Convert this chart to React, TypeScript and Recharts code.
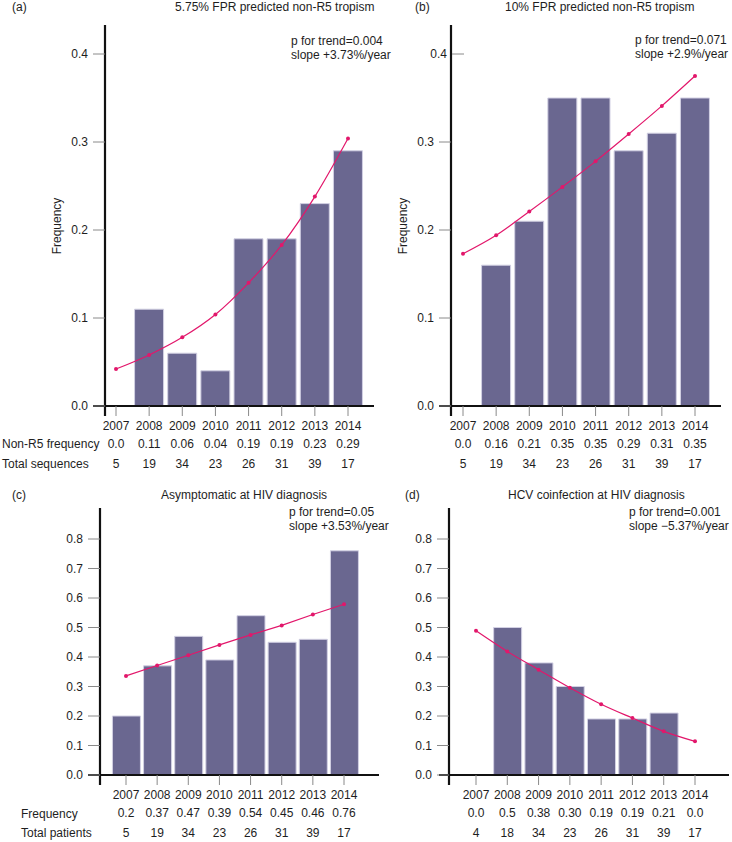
import React from 'react';
import { ComposedChart, Bar, Line, XAxis, YAxis, ReferenceLine } from 'recharts';

const years = [2007, 2008, 2009, 2010, 2011, 2012, 2013, 2014];

// (a) 5.75% FPR
const aFreqLabels = ['0.0', '0.11', '0.06', '0.04', '0.19', '0.19', '0.23', '0.29'];
const aTotals = [5, 19, 34, 23, 26, 31, 39, 17];
const aTrend = [0.042, 0.058, 0.078, 0.104, 0.14, 0.183, 0.238, 0.304];

// (b) 10% FPR
const bFreqLabels = ['0.0', '0.16', '0.21', '0.35', '0.35', '0.29', '0.31', '0.35'];
const bTotals = [5, 19, 34, 23, 26, 31, 39, 17];
const bTrend = [0.173, 0.194, 0.221, 0.249, 0.278, 0.309, 0.341, 0.375];

// (c) asymptomatic
const cFreqLabels = ['0.2', '0.37', '0.47', '0.39', '0.54', '0.45', '0.46', '0.76'];
const cTotals = [5, 19, 34, 23, 26, 31, 39, 17];
const cTrend = [0.336, 0.371, 0.406, 0.441, 0.475, 0.507, 0.544, 0.579];

// (d) HCV coinfection
const dFreqLabels = ['0.0', '0.5', '0.38', '0.30', '0.19', '0.19', '0.21', '0.0'];
const dTotals = [4, 18, 34, 23, 26, 31, 39, 17];
const dTrend = [0.489, 0.419, 0.357, 0.296, 0.24, 0.193, 0.148, 0.114];

const yTicksTop = [0, 0.1, 0.2, 0.3, 0.4];
const yTicksBottom = [0, 0.1, 0.2, 0.3, 0.4, 0.5, 0.6, 0.7, 0.8];

const FONT = '"Liberation Sans", Arial, Helvetica, sans-serif';
const BAR = '#6a6790';
const BAR_EDGE = '#d2d0e3';
const TREND = '#e2176b';
const TICK = '#8a8a8a';
const INK = '#1e1e1e';

const buildData = (labels: string[], trend: number[]) =>
    years.map((year, i) => ({ year, freq: Number(labels[i]), trend: trend[i] }));

interface Geo {
    left: number; top: number; width: number; height: number;
    plotLeft: number; plotRight: number; plotTop: number; zeroY: number;
    unitPx: number; firstTick: number; lastTick: number; axisStart: number;
    barSize: number;
}

const YTick = (props: any) => {
    const { x, y, payload, shift } = props;
    const s = (shift && shift[payload.value]) || 0;
    return (
        <g>
            <line x1={x + 5 + s} x2={x + 17 + s} y1={y} y2={y} stroke={TICK} strokeWidth={1} />
            <text x={x + s} y={y} dy={4.3} textAnchor="end" fontSize={12} fill={INK} fontFamily={FONT}>
                {Number(payload.value).toFixed(1)}
            </text>
        </g>
    );
};

const XTick = (props: any) => {
    const { x, y, payload, freqLabels, totals, dys } = props;
    const i = years.indexOf(payload.value);
    return (
        <g fontFamily={FONT} fontSize={12} fill={INK} textAnchor="middle">
            <text x={x} y={y} dy={dys[0]}>{payload.value}</text>
            <text x={x} y={y} dy={dys[1]}>{freqLabels[i]}</text>
            <text x={x} y={y} dy={dys[2]}>{totals[i]}</text>
        </g>
    );
};

interface PanelProps {
    geo: Geo;
    freqLabels: string[];
    totals: number[];
    trend: number[];
    yTicks: number[];
    yShift?: Record<number, number>;
    dys: number[];
    lineType?: 'monotone' | 'linear';
}

const Panel: React.FC<PanelProps> = ({ geo, freqLabels, totals, trend, yTicks, yShift, dys, lineType = 'monotone' }) => {
    const data = buildData(freqLabels, trend);
    const step = (geo.lastTick - geo.firstTick) / (years.length - 1);
    const toYear = (px: number) => years[0] + (px - geo.firstTick) / step;
    const xDomain = [toYear(geo.plotLeft), toYear(geo.plotRight)];
    const axisStartYear = toYear(geo.axisStart);
    const yMax = (geo.zeroY - geo.plotTop) / geo.unitPx;
    const yExt = -10 / geo.unitPx;

    return (
        <div style={{ position: 'absolute', left: geo.left, top: geo.top }}>
            <ComposedChart
                width={geo.width}
                height={geo.height}
                data={data}
                margin={{ top: geo.plotTop - geo.top, right: geo.left + geo.width - geo.plotRight, left: 0, bottom: 0 }}
            >
                <XAxis
                    type="number"
                    dataKey="year"
                    domain={xDomain}
                    allowDataOverflow
                    ticks={years}
                    interval={0}
                    height={geo.top + geo.height - geo.zeroY}
                    axisLine={false}
                    tickLine={{ stroke: TICK }}
                    tickSize={10}
                    tickMargin={0}
                    tick={(p: any) => <XTick {...p} freqLabels={freqLabels} totals={totals} dys={dys} />}
                />
                <YAxis
                    type="number"
                    domain={[0, yMax]}
                    allowDataOverflow
                    ticks={yTicks}
                    interval={0}
                    width={geo.plotLeft - geo.left}
                    axisLine={false}
                    tickLine={false}
                    tickSize={12}
                    tickMargin={5}
                    tick={(p: any) => <YTick {...p} shift={yShift} />}
                />
                <Bar
                    dataKey="freq"
                    barSize={geo.barSize}
                    fill={BAR}
                    stroke={BAR_EDGE}
                    strokeWidth={1}
                    isAnimationActive={false}
                />
                <Line
                    type={lineType}
                    dataKey="trend"
                    stroke={TREND}
                    strokeWidth={1.2}
                    dot={{ r: 2, fill: TREND, stroke: TREND, strokeWidth: 0 }}
                    activeDot={false}
                    isAnimationActive={false}
                />
                <ReferenceLine
                    segment={[{ x: axisStartYear, y: 0 }, { x: xDomain[1], y: 0 }]}
                    stroke="#111"
                    strokeWidth={2}
                    ifOverflow="visible"
                />
                <ReferenceLine
                    segment={[{ x: xDomain[0], y: yExt }, { x: xDomain[0], y: yMax }]}
                    stroke="#111"
                    strokeWidth={2.2}
                    ifOverflow="visible"
                />
            </ComposedChart>
        </div>
    );
};

const Txt: React.FC<{ x: number; cy: number; children: React.ReactNode }> = ({ x, cy, children }) => (
    <div style={{ position: 'absolute', left: x, top: cy - 7, lineHeight: '14px', fontSize: 12, whiteSpace: 'nowrap', color: INK }}>
        {children}
    </div>
);

const VLabel: React.FC<{ cx: number; cy: number; children: React.ReactNode }> = ({ cx, cy, children }) => (
    <div
        style={{
            position: 'absolute', left: cx, top: cy, lineHeight: '14px', fontSize: 12, whiteSpace: 'nowrap', color: INK,
            transform: 'translate(-50%, -50%) rotate(-90deg)',
        }}
    >
        {children}
    </div>
);

const geoA: Geo = { left: 0, top: 0, width: 376, height: 480, plotLeft: 105, plotRight: 374, plotTop: 25, zeroY: 406, unitPx: 880, firstTick: 116, lastTick: 348, axisStart: 93, barSize: 29 };
const geoB: Geo = { left: 366, top: 0, width: 366, height: 480, plotLeft: 451, plotRight: 721, plotTop: 25, zeroY: 406, unitPx: 880, firstTick: 463, lastTick: 695, axisStart: 439, barSize: 29 };
const geoC: Geo = { left: 0, top: 480, width: 380, height: 362, plotLeft: 100, plotRight: 379, plotTop: 508, zeroY: 775, unitPx: 295, firstTick: 126, lastTick: 344, axisStart: 88, barSize: 28 };
const geoD: Geo = { left: 366, top: 480, width: 366, height: 362, plotLeft: 449, plotRight: 729, plotTop: 508, zeroY: 775, unitPx: 295, firstTick: 476, lastTick: 695, axisStart: 439, barSize: 28 };

const rowDys = [14.3, 32.3, 51.8];

export default function App() {
    return (
        <div style={{ position: 'absolute', left: 0, top: 0, width: 732, height: 842, background: '#fff', fontFamily: FONT, overflow: 'hidden' }}>
            <Panel geo={geoA} freqLabels={aFreqLabels} totals={aTotals} trend={aTrend} yTicks={yTicksTop} dys={rowDys} />
            <Panel geo={geoB} freqLabels={bFreqLabels} totals={bTotals} trend={bTrend} yTicks={yTicksTop} yShift={{ 0.4: 13 }} dys={rowDys} />
            <Panel geo={geoC} freqLabels={cFreqLabels} totals={cTotals} trend={cTrend} yTicks={yTicksBottom} dys={rowDys} lineType="linear" />
            <Panel geo={geoD} freqLabels={dFreqLabels} totals={dTotals} trend={dTrend} yTicks={yTicksBottom} dys={rowDys} />

            <Txt x={12} cy={7}>(a)</Txt>
            <Txt x={175} cy={7}>5.75% FPR predicted non-R5 tropism</Txt>
            <Txt x={291} cy={41}>p for trend=0.004</Txt>
            <Txt x={291} cy={55}>slope +3.73%/year</Txt>
            <VLabel cx={57} cy={226}>Frequency</VLabel>
            <Txt x={2} cy={444}>Non-R5 frequency</Txt>
            <Txt x={2} cy={463.5}>Total sequences</Txt>

            <Txt x={415} cy={7}>(b)</Txt>
            <Txt x={505} cy={7}>10% FPR predicted non-R5 tropism</Txt>
            <Txt x={635} cy={40}>p for trend=0.071</Txt>
            <Txt x={635} cy={54}>slope +2.9%/year</Txt>
            <VLabel cx={403} cy={226}>Frequency</VLabel>

            <Txt x={12} cy={495}>(c)</Txt>
            <Txt x={161} cy={495}>Asymptomatic at HIV diagnosis</Txt>
            <Txt x={289} cy={512}>p for trend=0.05</Txt>
            <Txt x={289} cy={526}>slope +3.53%/year</Txt>
            <Txt x={21} cy={813.5}>Frequency</Txt>
            <Txt x={21} cy={833}>Total patients</Txt>

            <Txt x={405} cy={495}>(d)</Txt>
            <Txt x={508} cy={495}>HCV coinfection at HIV diagnosis</Txt>
            <Txt x={629} cy={512}>p for trend=0.001</Txt>
            <Txt x={629} cy={526}>slope −5.37%/year</Txt>
        </div>
    );
}
